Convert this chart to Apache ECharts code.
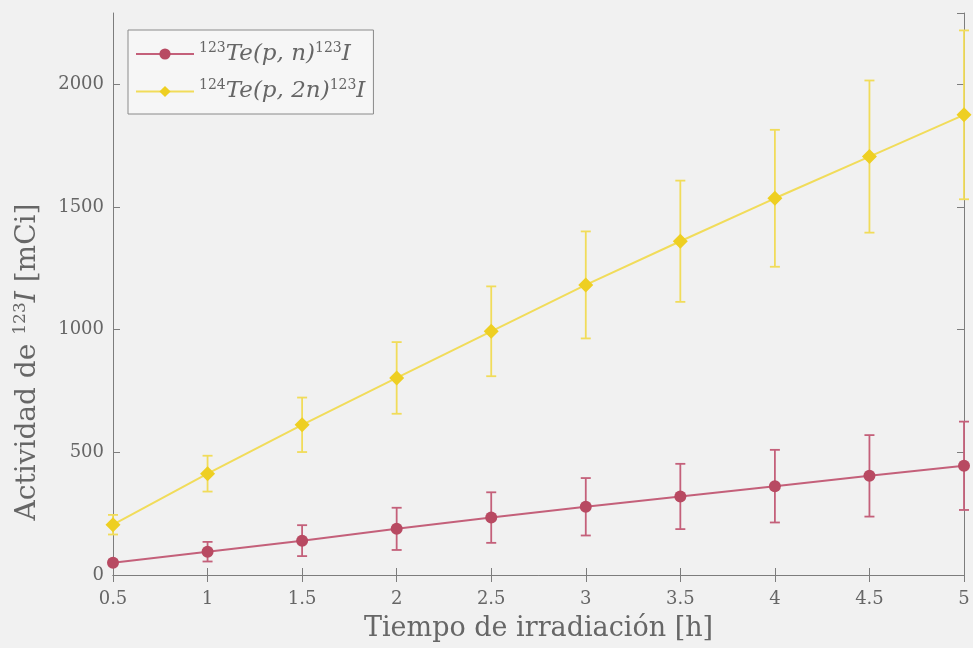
<!DOCTYPE html>
<html>
<head>
<meta charset="utf-8">
<script src="https://cdn.jsdelivr.net/npm/echarts@6/dist/echarts.min.js"></script>
<style>
  html, body { margin: 0; padding: 0; background: #f1f1f1; }
  #chart { width: 973px; height: 648px; }
</style>
</head>
<body>
<div id="chart"></div>
<script>
// irradiation time [h]
const times = [0.5, 1, 1.5, 2, 2.5, 3, 3.5, 4, 4.5, 5];
// 123Te(p,n)123I activity [mCi] and its error
const pnValues = [50, 95, 140, 188, 234, 278, 320, 362, 404, 445];
const pnErrors = [10, 40, 63, 86, 103, 117, 133, 148, 166, 180];
// 124Te(p,2n)123I activity [mCi] and its error
const p2nValues = [205, 413, 612, 803, 993, 1182, 1360, 1535, 1705, 1875];
const p2nErrors = [40, 73, 111, 146, 183, 218, 247, 279, 310, 344];
const yTicks = [0, 500, 1000, 1500, 2000];

const redLine = "#c4607a";
const redMark = "#b84a62";
const yellowLine = "#f1dc5a";
const yellowMark = "#eecf22";
const textColor = "#666666";
const axisColor = "#7d7d7d";
const serif = "DejaVu Serif";

const pnName = "pn";
const p2nName = "p2n";

const toPairs = (vals) => times.map((t, i) => [t, vals[i]]);
const toBars = (vals, errs) => times.map((t, i) => [t, vals[i] - errs[i], vals[i] + errs[i]]);

function errorBarSeries(data, color) {
  return {
    type: "custom",
    data: data,
    z: 1,
    silent: true,
    encode: { x: 0, y: [1, 2] },
    renderItem: (params, api) => {
      const lo = api.coord([api.value(0), api.value(1)]);
      const hi = api.coord([api.value(0), api.value(2)]);
      const w = 5;
      const style = { stroke: color, lineWidth: 1.8 };
      return {
        type: "group",
        children: [
          { type: "line", shape: { x1: lo[0], y1: lo[1], x2: hi[0], y2: hi[1] }, style: style },
          { type: "line", shape: { x1: lo[0] - w, y1: lo[1], x2: lo[0] + w, y2: lo[1] }, style: style },
          { type: "line", shape: { x1: hi[0] - w, y1: hi[1], x2: hi[0] + w, y2: hi[1] }, style: style }
        ]
      };
    }
  };
}

const legendRich = {
  sup: { fontFamily: serif, fontSize: 14, color: textColor, verticalAlign: "top", lineHeight: 26 },
  it: { fontFamily: serif, fontStyle: "italic", fontSize: 23, color: textColor, lineHeight: 26 }
};

const titleRich = {
  n: { fontFamily: serif, fontSize: 28, fill: textColor, lineHeight: 32 },
  s: { fontFamily: serif, fontSize: 17, fill: textColor, verticalAlign: "top", lineHeight: 32 },
  i: { fontFamily: serif, fontStyle: "italic", fontSize: 28, fill: textColor, lineHeight: 32 }
};

const chart = echarts.init(document.getElementById("chart"));
chart.setOption({
  backgroundColor: "#f1f1f1",
  animation: false,
  grid: { left: 113, right: 9, top: 13, bottom: 73 },
  graphic: [
    {
      type: "text",
      x: 28,
      y: 362,
      rotation: Math.PI / 2,
      style: {
        text: "{n|Actividad de }{s|123}{i|I}{n| [mCi]}",
        rich: titleRich,
        fill: textColor,
        align: "center",
        verticalAlign: "middle"
      }
    }
  ],
  legend: {
    left: 128,
    top: 30,
    orient: "vertical",
    itemWidth: 58,
    itemHeight: 14,
    itemGap: 13,
    padding: [11, 8, 11, 7],
    backgroundColor: "#f6f6f6",
    borderColor: "#8a8a8a",
    borderWidth: 1,
    data: [pnName, p2nName],
    formatter: (name) => name === pnName
      ? "{sup|123}{it|Te(p, n)}{sup|123}{it|I}"
      : "{sup|124}{it|Te(p, 2n)}{sup|123}{it|I}",
    textStyle: { rich: legendRich }
  },
  xAxis: [
    {
      type: "value",
      min: 0.5,
      max: 5,
      interval: 0.5,
      name: "Tiempo de irradiación [h]",
      nameLocation: "middle",
      nameGap: 40,
      nameTextStyle: { fontFamily: serif, fontSize: 27, color: textColor },
      axisLine: { lineStyle: { color: axisColor, width: 1 } },
      axisTick: { inside: true, length: 7, lineStyle: { color: axisColor } },
      axisLabel: { fontFamily: serif, fontSize: 18, color: textColor, margin: 15 },
      splitLine: { show: false }
    },
    {
      type: "value",
      position: "top",
      min: 0.5,
      max: 5,
      interval: 0.5,
      axisLine: { lineStyle: { color: axisColor, width: 1 } },
      axisTick: { inside: true, length: 7, lineStyle: { color: axisColor } },
      axisLabel: { show: false },
      splitLine: { show: false }
    }
  ],
  yAxis: [
    {
      type: "value",
      min: 0,
      max: 2290,
      interval: 500,
      axisLine: { show: true, lineStyle: { color: axisColor, width: 1 } },
      axisTick: { show: true, inside: true, length: 7, lineStyle: { color: axisColor } },
      axisLabel: {
        fontFamily: serif, fontSize: 18, color: textColor, margin: 9,
        showMaxLabel: false,
        formatter: (v) => yTicks.includes(v) ? String(v) : ""
      },
      splitLine: { show: false }
    },
    {
      type: "value",
      position: "right",
      min: 0,
      max: 2290,
      interval: 500,
      axisLine: { show: true, lineStyle: { color: axisColor, width: 1 } },
      axisTick: { show: true, inside: true, length: 7, lineStyle: { color: axisColor } },
      axisLabel: { show: false },
      splitLine: { show: false }
    }
  ],
  series: [
    errorBarSeries(toBars(pnValues, pnErrors), redLine),
    errorBarSeries(toBars(p2nValues, p2nErrors), yellowLine),
    {
      name: pnName,
      type: "line",
      data: toPairs(pnValues),
      z: 3,
      symbol: "circle",
      symbolSize: 12,
      lineStyle: { color: redLine, width: 2 },
      itemStyle: { color: redMark }
    },
    {
      name: p2nName,
      type: "line",
      data: toPairs(p2nValues),
      z: 3,
      symbol: "diamond",
      symbolSize: 15,
      lineStyle: { color: yellowLine, width: 2 },
      itemStyle: { color: yellowMark }
    }
  ]
});
</script>
</body>
</html>
